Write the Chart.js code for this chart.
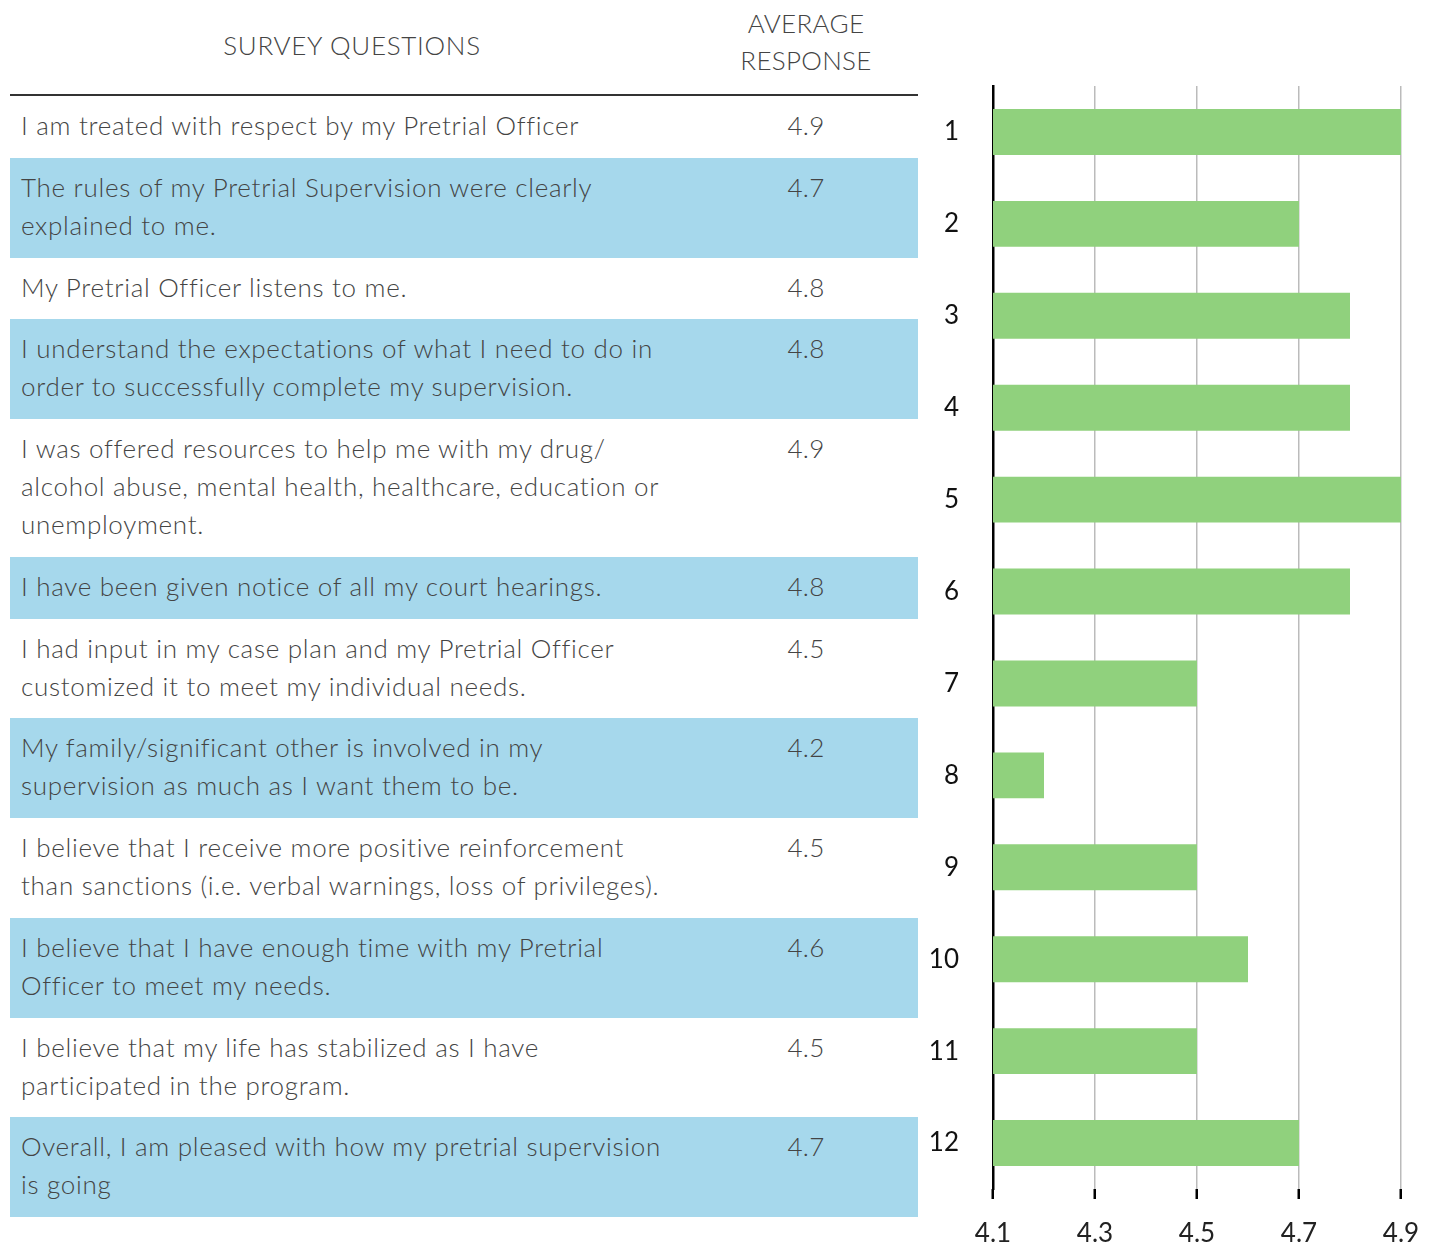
<!DOCTYPE html>
<html>
<head>
<meta charset="utf-8">
<script src="https://cdn.jsdelivr.net/npm/chart.js@4"></script>
<style>
  html, body { margin: 0; padding: 0; background: #fff; }
  body { width: 1434px; height: 1245px; position: relative; overflow: hidden; font-family: "Lato", sans-serif; }
  #survey { position: absolute; left: 10px; top: 0; width: 908px; border-collapse: collapse; color: #444; font-size: 26px; font-weight: 300; letter-spacing: 0.7px; }
  #survey th { font-weight: 300; padding: 0; border-bottom: 2.5px solid #333; line-height: 37px; vertical-align: middle; }
  #survey th.q { height: 90px; padding-bottom: 4px; }
  #survey th.a { height: 84px; padding-bottom: 10px; letter-spacing: 0.3px; }
  #survey td { padding: 10px 0 13.75px 11px; line-height: 38px; vertical-align: top; white-space: pre-line; }
  #survey td.avg { text-align: center; padding-left: 0; letter-spacing: 0.3px; }
  #survey tr.shaded td { background: #a6d8ec; }
  .chart-box { position: absolute; left: 920px; top: 0; width: 514px; height: 1245px; }
</style>
</head>
<body>
<table id="survey">
  <thead>
    <tr><th class="q" style="width:684px">SURVEY QUESTIONS</th><th class="a">AVERAGE<br>RESPONSE</th></tr>
  </thead>
  <tbody id="survey-body"></tbody>
</table>
<div class="chart-box"><canvas id="avg-chart" width="514" height="1245"></canvas></div>
<script>
const questions = [
  "I am treated with respect by my Pretrial Officer",
  "The rules of my Pretrial Supervision were clearly\nexplained to me.",
  "My Pretrial Officer listens to me.",
  "I understand the expectations of what I need to do in\norder to successfully complete my supervision.",
  "I was offered resources to help me with my drug/\nalcohol abuse, mental health, healthcare, education or\nunemployment.",
  "I have been given notice of all my court hearings.",
  "I had input in my case plan and my Pretrial Officer\ncustomized it to meet my individual needs.",
  "My family/significant other is involved in my\nsupervision as much as I want them to be.",
  "I believe that I receive more positive reinforcement\nthan sanctions (i.e. verbal warnings, loss of privileges).",
  "I believe that I have enough time with my Pretrial\nOfficer to meet my needs.",
  "I believe that my life has stabilized as I have\nparticipated in the program.",
  "Overall, I am pleased with how my pretrial supervision\nis going"
];
const questionNumbers = ["1", "2", "3", "4", "5", "6", "7", "8", "9", "10", "11", "12"];
const averages = [4.9, 4.7, 4.8, 4.8, 4.9, 4.8, 4.5, 4.2, 4.5, 4.6, 4.5, 4.7];
const xTickValues = [4.1, 4.3, 4.5, 4.7, 4.9];

// table rows: question text + average, alternate rows shaded
const body = document.getElementById("survey-body");
questions.forEach((q, i) => {
  const tr = document.createElement("tr");
  if (i % 2 === 1) tr.className = "shaded";
  const tdQ = document.createElement("td");
  tdQ.textContent = q;
  const tdA = document.createElement("td");
  tdA.className = "avg";
  tdA.textContent = averages[i].toFixed(1);
  tr.appendChild(tdQ);
  tr.appendChild(tdA);
  body.appendChild(tr);
});

const labelFont = { family: "Lato, sans-serif", size: 26 };

new Chart(document.getElementById("avg-chart"), {
  type: "bar",
  data: {
    labels: questionNumbers,
    datasets: [
      {
        data: averages,
        backgroundColor: "#90d17d",
        barPercentage: 0.5,
        categoryPercentage: 1
      }
    ]
  },
  options: {
    indexAxis: "y",
    responsive: false,
    animation: false,
    layout: { padding: { top: 86, right: 33, bottom: 0, left: 0 } },
    plugins: { legend: { display: false }, tooltip: { enabled: false } },
    scales: {
      x: {
        min: 4.1,
        max: 4.9,
        afterBuildTicks: (scale) => { scale.ticks = xTickValues.map((v) => ({ value: v })); },
        afterFit: (scale) => {
          // fixed axis height; keep label overhang from shrinking the plot
          scale.height = 56;
          scale.paddingLeft = 0;
          scale.paddingRight = 0;
        },
        grid: { color: "#bbbbbb", lineWidth: 1.5, tickLength: 10, tickColor: "#000", tickWidth: 2.5 },
        border: { display: false },
        ticks: { color: "#222", font: labelFont, padding: 19, maxRotation: 0, callback: (v) => Number(v).toFixed(1) }
      },
      y: {
        afterFit: (scale) => { scale.width = 73; },
        grid: { display: false, drawTicks: false },
        border: { display: true, color: "#000", width: 2.5 },
        ticks: { color: "#111", font: labelFont, padding: 34 }
      }
    }
  }
});
</script>
</body>
</html>
